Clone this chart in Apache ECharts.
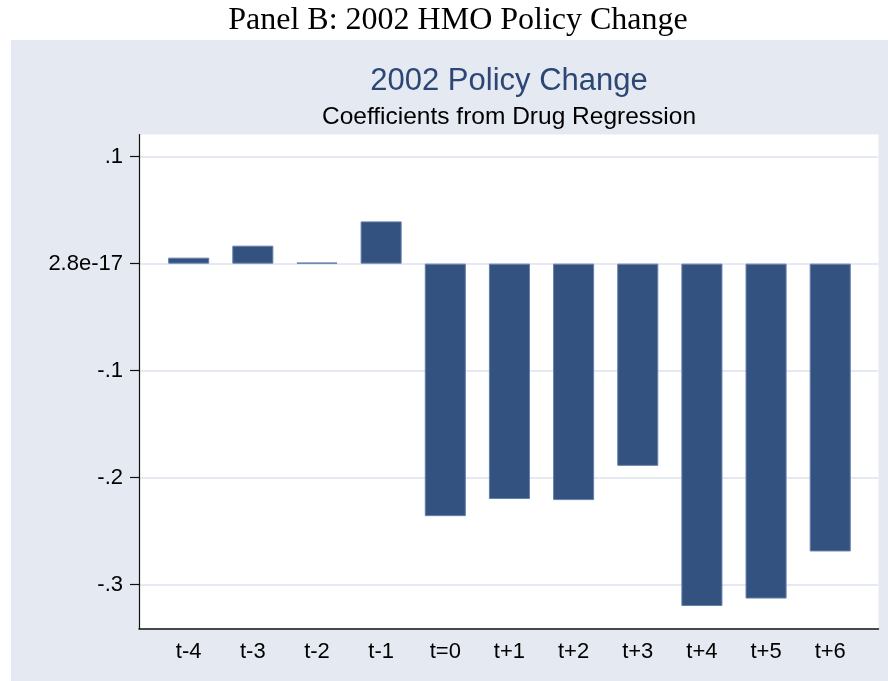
<!DOCTYPE html>
<html>
<head>
<meta charset="utf-8">
<script src="https://cdn.jsdelivr.net/npm/echarts@6/dist/echarts.min.js"></script>
<style>
html,body{margin:0;padding:0;background:#fff;}
#chart{width:888px;height:681px;}
</style>
</head>
<body>
<div id="chart"></div>
<script>
const categories = ['t-4','t-3','t-2','t-1','t=0','t+1','t+2','t+3','t+4','t+5','t+6'];
const coefficients = [0.0056, 0.0168, 0.001, 0.0395, -0.236, -0.220, -0.221, -0.189, -0.320, -0.313, -0.269];
const tickValues = [0.1, 0, -0.1, -0.2, -0.3];
const tickLabels = ['.1', '2.8e-17', '-.1', '-.2', '-.3'];
const panelTitle = 'Panel B: 2002 HMO Policy Change';
const mainTitle = '2002 Policy Change';
const subTitle = 'Coefficients from Drug Regression';

const yMin = -0.341, yMax = 0.1207;
const bg = '#E5E9F2';
const sans = '"Liberation Sans", Arial, sans-serif';

function fmt(v) {
  for (let i = 0; i < tickValues.length; i++) {
    if (Math.abs(v - tickValues[i]) < 1e-9) return tickLabels[i];
  }
  return '';
}

const chart = echarts.init(document.getElementById('chart'), null, {renderer: 'canvas'});
chart.setOption({
  animation: false,
  backgroundColor: '#ffffff',
  graphic: [
    {type: 'rect', z: -10, shape: {x: 11, y: 40, width: 877, height: 641}, style: {fill: bg}},
    {type: 'text', style: {text: panelTitle, x: 458, y: 21, textAlign: 'center', textVerticalAlign: 'middle',
      font: '32px "Liberation Serif", "Times New Roman", serif', fill: '#000'}},
    {type: 'text', style: {text: mainTitle, x: 509, y: 81, textAlign: 'center', textVerticalAlign: 'middle',
      font: '31px ' + sans, fill: '#2C4675'}},
    {type: 'text', style: {text: subTitle, x: 509, y: 117, textAlign: 'center', textVerticalAlign: 'middle',
      font: '24.5px ' + sans, fill: '#000'}}
  ],
  grid: [
    {left: 139, right: 9.5, top: 134.5, bottom: 52.5, show: true, backgroundColor: '#ffffff', borderWidth: 0},
    {left: 156.6, right: 25.7, top: 134.5, bottom: 52.5}
  ],
  xAxis: [
    {type: 'value', gridIndex: 0, min: 0, max: 1,
      axisLine: {show: true, onZero: false, lineStyle: {color: '#111', width: 1.5}},
      axisTick: {show: false}, axisLabel: {show: false}, splitLine: {show: false}},
    {type: 'category', gridIndex: 1, data: categories,
      axisLine: {show: false, onZero: false}, axisTick: {show: false},
      axisLabel: {fontSize: 22, fontFamily: sans, color: '#000', margin: 12},
      splitLine: {show: false}}
  ],
  yAxis: [
    {type: 'value', gridIndex: 0, min: yMin, max: yMax,
      axisLine: {show: true, onZero: false, lineStyle: {color: '#111', width: 1.2}},
      axisTick: {show: true, length: 9, customValues: tickValues, lineStyle: {color: '#111', width: 1.2}},
      axisLabel: {customValues: tickValues, formatter: fmt, fontSize: 22, fontFamily: sans, color: '#000', margin: 16},
      splitLine: {show: true, lineStyle: {color: bg, width: 2}}},
    {type: 'value', gridIndex: 1, min: yMin, max: yMax, show: false, splitLine: {show: false}}
  ],
  series: [{
    type: 'bar',
    xAxisIndex: 1, yAxisIndex: 1,
    data: coefficients,
    barWidth: '64%',
    itemStyle: {color: '#33527F', borderColor: '#6580AA', borderWidth: 1}
  }]
});
</script>
</body>
</html>
